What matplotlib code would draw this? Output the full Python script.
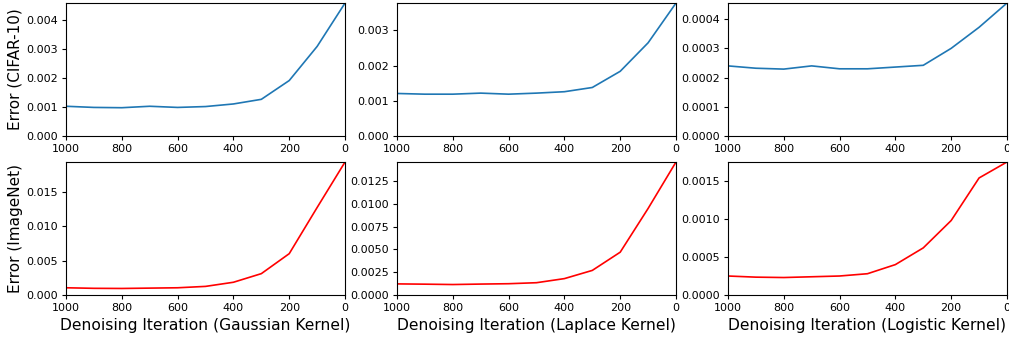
import matplotlib
matplotlib.use("Agg")
import matplotlib.pyplot as plt
from matplotlib.ticker import MultipleLocator

steps = [1000, 900, 800, 700, 600, 500, 400, 300, 200, 100, 0]

kernels = ["Gaussian", "Laplace", "Logistic"]

cifar_gaussian = [0.00103, 0.00099, 0.00098, 0.00103, 0.00099, 0.00102,
                  0.00111, 0.00127, 0.00192, 0.00310, 0.00460]
cifar_laplace = [0.00121, 0.00119, 0.00119, 0.00122, 0.00119, 0.00122,
                 0.00126, 0.00138, 0.00184, 0.00265, 0.00378]
cifar_logistic = [0.000240, 0.000232, 0.000229, 0.000240, 0.000230, 0.000230,
                  0.000236, 0.000242, 0.000300, 0.000372, 0.000455]

imagenet_gaussian = [0.00105, 0.00097, 0.00095, 0.00100, 0.00105, 0.00125,
                     0.00185, 0.00310, 0.00600, 0.01270, 0.01930]
imagenet_laplace = [0.00122, 0.00119, 0.00115, 0.00120, 0.00124, 0.00135,
                    0.00180, 0.00270, 0.00470, 0.00950, 0.01460]
imagenet_logistic = [0.000250, 0.000235, 0.000230, 0.000240, 0.000250, 0.000280,
                     0.000400, 0.000620, 0.000980, 0.001540, 0.001750]

rows = [
    ("Error (CIFAR-10)", "tab:blue", [cifar_gaussian, cifar_laplace, cifar_logistic]),
    ("Error (ImageNet)", "red", [imagenet_gaussian, imagenet_laplace, imagenet_logistic]),
]

fig, axes = plt.subplots(2, 3, figsize=(10.09, 3.37), dpi=100)
fig.subplots_adjust(left=0.0654, right=0.998, top=0.991, bottom=0.1246,
                    wspace=0.186, hspace=0.195)

for r, (ylabel, color, series) in enumerate(rows):
    for c, vals in enumerate(series):
        ax = axes[r, c]
        ax.plot(steps, vals, color=color, linewidth=1.2)
        ax.set_xlim(1000, 0)
        ax.set_ylim(0, max(vals))
        ax.set_xticks([1000, 800, 600, 400, 200, 0])
        ax.tick_params(labelsize=8, length=3, pad=2.5)
        if c == 0:
            ax.set_ylabel(ylabel, fontsize=11, labelpad=3)
        if r == 1:
            ax.set_xlabel(f"Denoising Iteration ({kernels[c]} Kernel)", fontsize=11.2)

# Laplace / ImageNet panel uses finer y ticks
axes[1, 1].yaxis.set_major_locator(MultipleLocator(0.0025))

fig.savefig("out.png", dpi=100)
